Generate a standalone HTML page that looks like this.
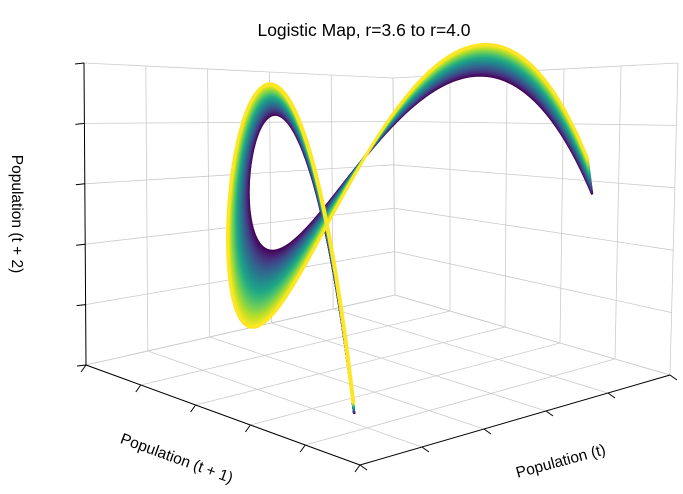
<!DOCTYPE html>
<html><head><meta charset="utf-8"><style>
body{margin:0;background:#fff;}
svg{display:block;font-family:"Liberation Sans",sans-serif;}
</style></head><body>
<svg id="chart" width="683" height="494" viewBox="0 0 683 494" xmlns="http://www.w3.org/2000/svg">
<rect width="683" height="494" fill="#fff"/>
<g id="grid"></g>
<g id="axes"></g>
<g id="series"></g>
<text x="364" y="36" text-anchor="middle" font-size="17.5" fill="#000">Logistic Map, r=3.6 to r=4.0</text>
<text transform="translate(175,463) rotate(20)" text-anchor="middle" font-size="15.5" fill="#000">Population (t + 1)</text>
<text transform="translate(562,466) rotate(-15)" text-anchor="middle" font-size="15.5" fill="#000">Population (t)</text>
<text transform="translate(12,214) rotate(90)" text-anchor="middle" font-size="15.5" fill="#000">Population (t + 2)</text>
</svg>
<script>
// data
const rRange = [3.6, 4.0];
const rCount = 120;
const popRange = [0.01, 0.95];
const tailRange = [0.01, 0.16];
const tickValues = [0, 0.2, 0.4, 0.6, 0.8, 1.0];
const axisLimits = [0, 1];

const NS = "http://www.w3.org/2000/svg";
const C = {
  b00:[360,465], b10:[670,375], b01:[86,365], b11:[395,295],
  t00:[365,48],  t10:[678,63],  t01:[84,63],  t11:[393,78]
};
const D = {
  b00:[360,465], b10:[646,372], b01:[102,362], b11:[409,292],
  t00:[365,85],  t10:[652,27],  t01:[88,100], t11:[395,46]
};
function lerp(a,b,t){return [a[0]+(b[0]-a[0])*t, a[1]+(b[1]-a[1])*t];}
function projWith(K,x,y,z){
  const s=v=>(v-axisLimits[0])/(axisLimits[1]-axisLimits[0]);
  const u=s(x), v=s(y), w=s(z);
  const b=lerp(lerp(K.b00,K.b01,v), lerp(K.b10,K.b11,v), u);
  const t=lerp(lerp(K.t00,K.t01,v), lerp(K.t10,K.t11,v), u);
  return lerp(b,t,w);
}
const proj=(x,y,z)=>projWith(C,x,y,z);
const projData=(x,y,z)=>projWith(D,x,y,z);
function line(g,p,q,stroke,w,name){
  const l=document.createElementNS(NS,'line');
  l.setAttribute('x1',p[0]);l.setAttribute('y1',p[1]);l.setAttribute('x2',q[0]);l.setAttribute('y2',q[1]);
  l.setAttribute('stroke',stroke);l.setAttribute('stroke-width',w);
  
  
  g.appendChild(l);
}
const grid=document.getElementById('grid');
const gc='#cbcbcb';
tickValues.forEach(t=>{
  line(grid,proj(t,0,0),proj(t,1,0),gc,0.8,'floor-gridline');
  line(grid,proj(0,t,0),proj(1,t,0),gc,0.8,'floor-gridline');
  line(grid,proj(t,1,0),proj(t,1,1),gc,0.8,'wall-gridline');
  line(grid,proj(0,1,t),proj(1,1,t),gc,0.8,'wall-gridline');
  line(grid,proj(1,t,0),proj(1,t,1),gc,0.8,'wall-gridline');
  line(grid,proj(1,0,t),proj(1,1,t),gc,0.8,'wall-gridline');
});
const axes=document.getElementById('axes');
line(axes,proj(0,1,0),proj(0,1,1),'#000',1,'z-axis-line');
line(axes,proj(0,0,0),proj(0,1,0),'#000',1,'y-axis-line');
line(axes,proj(0,0,0),proj(1,0,0),'#000',1,'x-axis-line');
tickValues.forEach(t=>{
  const pz=proj(0,1,t); line(axes,pz,[pz[0]-9,pz[1]+1],'#000',1,'z-tick');
  const py=proj(0,t,0); line(axes,py,[py[0]-5,py[1]+7],'#000',1,'y-tick');
  const px=proj(t,0,0); line(axes,px,[px[0]+7,px[1]+5],'#000',1,'x-tick');
});
const vir=['#440154','#482475','#414487','#355f8d','#2a788e','#21918c','#22a884','#44bf70','#7ad151','#bddf26','#fde725'];
function hex(c){return [parseInt(c.slice(1,3),16),parseInt(c.slice(3,5),16),parseInt(c.slice(5,7),16)];}
function viridis(t){
  const f=t*10, i=Math.min(9,Math.floor(f)), k=f-i;
  const a=hex(vir[i]), b=hex(vir[i+1]);
  return 'rgb('+a.map((v,j)=>Math.round(v+(b[j]-v)*k)).join(',')+')';
}
const series=document.getElementById('series');
function curvePath(r,range,steps){
  let d='';
  for(let j=0;j<=steps;j++){
    const x=range[0]+(range[1]-range[0])*j/steps;
    const y=r*x*(1-x), z=r*y*(1-y);
    const p=projData(x,y,z);
    d+=(j?'L':'M')+p[0].toFixed(1)+','+p[1].toFixed(1);
  }
  return d;
}
for(let i=0;i<rCount;i++){
  const r=rRange[0]+(rRange[1]-rRange[0])*i/(rCount-1);
  const path=document.createElementNS(NS,'path');
  path.setAttribute('d',curvePath(r,popRange,500));
  path.setAttribute('fill','none');
  path.setAttribute('stroke',viridis(i/(rCount-1)));
  path.setAttribute('stroke-width', i===rCount-1 ? '3' : '2.2');
  
  
  series.appendChild(path);
}
const tail=document.createElementNS(NS,'path');
tail.setAttribute('d',curvePath(rRange[1],tailRange,120));
tail.setAttribute('fill','none');
tail.setAttribute('stroke',viridis(1));
tail.setAttribute('stroke-width','4');


series.appendChild(tail);
</script>
</body></html>
